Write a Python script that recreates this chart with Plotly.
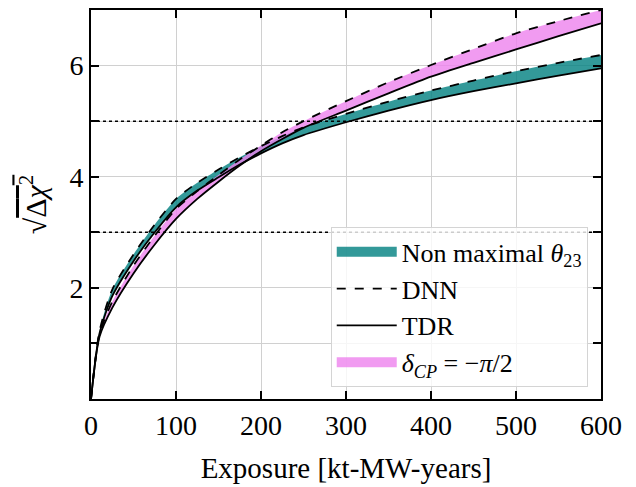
import plotly.graph_objects as go

# Exposure [kt-MW-years]
exposure = [0, 10, 25, 50, 75, 100, 125, 150, 175, 200, 225, 250, 300, 350, 400, 450, 500, 550, 600]

# Non maximal theta23
nonmax_dnn = [0, 1.22, 1.97, 2.60, 3.14, 3.60, 3.89, 4.13, 4.35, 4.55, 4.73, 4.89, 5.13, 5.35, 5.55, 5.73, 5.90, 6.05, 6.19]
nonmax_tdr = [0, 1.18, 1.85, 2.48, 3.00, 3.45, 3.75, 3.99, 4.22, 4.42, 4.60, 4.75, 4.98, 5.19, 5.38, 5.54, 5.68, 5.82, 5.95]

# delta_CP = -pi/2
dcp_dnn = [0, 1.16, 1.75, 2.40, 2.94, 3.42, 3.74, 4.03, 4.31, 4.56, 4.80, 5.00, 5.36, 5.70, 6.01, 6.30, 6.58, 6.80, 7.00]
dcp_tdr = [0, 1.12, 1.64, 2.26, 2.78, 3.24, 3.60, 3.91, 4.20, 4.46, 4.68, 4.88, 5.19, 5.50, 5.80, 6.05, 6.29, 6.53, 6.76]

sigma_levels = [3, 5]

TEAL = "rgba(0,128,128,0.8)"
PINK = "rgba(238,130,238,0.8)"
FONT = "Liberation Serif"
SHAPE = dict(shape="spline", smoothing=0.7)

fig = go.Figure()

# bands
fig.add_trace(go.Scatter(x=exposure, y=nonmax_tdr, mode="lines", line=dict(width=0, **SHAPE),
                         showlegend=False, hoverinfo="skip"))
fig.add_trace(go.Scatter(x=exposure, y=nonmax_dnn, mode="lines", line=dict(width=0, **SHAPE),
                         fill="tonexty", fillcolor=TEAL, showlegend=False))
fig.add_trace(go.Scatter(x=exposure, y=dcp_tdr, mode="lines", line=dict(width=0, **SHAPE),
                         showlegend=False, hoverinfo="skip"))
fig.add_trace(go.Scatter(x=exposure, y=dcp_dnn, mode="lines", line=dict(width=0, **SHAPE),
                         fill="tonexty", fillcolor=PINK, showlegend=False))

# boundary lines
fig.add_trace(go.Scatter(x=exposure, y=nonmax_dnn, mode="lines",
                         line=dict(color="black", width=1.8, dash="dash", **SHAPE),
                         name="DNN", legendrank=2))
fig.add_trace(go.Scatter(x=exposure, y=nonmax_tdr, mode="lines",
                         line=dict(color="black", width=1.8, **SHAPE),
                         name="TDR", legendrank=3))
fig.add_trace(go.Scatter(x=exposure, y=dcp_dnn, mode="lines",
                         line=dict(color="black", width=1.8, dash="dash", **SHAPE), showlegend=False))
fig.add_trace(go.Scatter(x=exposure, y=dcp_tdr, mode="lines",
                         line=dict(color="black", width=1.8, **SHAPE), showlegend=False))

# legend patches
fig.add_trace(go.Scatter(x=[None], y=[None], mode="lines", line=dict(color=TEAL, width=18),
                         name="Non maximal <i>θ</i><sub>23</sub>", legendrank=1))
fig.add_trace(go.Scatter(x=[None], y=[None], mode="lines", line=dict(color=PINK, width=18),
                         name="<i>δ</i><sub><i>CP</i></sub> = −<i>π</i>/2", legendrank=4))

for s in sigma_levels:
    fig.add_hline(y=s, line=dict(color="black", width=1.5, dash="dot"), layer="above")

fig.update_layout(
    width=636, height=487,
    margin=dict(l=91, r=35, t=10, b=88, autoexpand=False),
    plot_bgcolor="white", paper_bgcolor="white",
    font=dict(family=FONT, size=28, color="black"),
    showlegend=True,
    legend=dict(x=0.974, y=0.03, xanchor="right", yanchor="bottom",
                bgcolor="rgba(255,255,255,0.8)", bordercolor="#d4d4d4", borderwidth=1,
                font=dict(family=FONT, size=26), itemwidth=60,
                traceorder="normal"),
)
fig.update_xaxes(range=[0, 600], tickvals=[0, 100, 200, 300, 400, 500, 600],
                 ticks="inside", ticklen=8, tickwidth=1.5, tickcolor="black",
                 showline=True, linecolor="black", linewidth=1.8, mirror="ticks",
                 showgrid=True, gridcolor="#d0d0d0", gridwidth=1, zeroline=False,
                 automargin=False,
                 title=dict(text="Exposure [kt-MW-years]", standoff=18,
                            font=dict(family=FONT, size=29)))
fig.update_yaxes(range=[0, 7], tickvals=[1, 2, 3, 4, 5, 6], ticktext=["", "2", "", "4", "", "6"],
                 ticks="inside", ticklen=8, tickwidth=1.5, tickcolor="black",
                 showline=True, linecolor="black", linewidth=1.8, mirror="ticks",
                 showgrid=True, gridcolor="#d0d0d0", gridwidth=1, zeroline=False,
                 automargin=False,
                 title=dict(text="√<span style='text-decoration:overline'>Δ<i>χ</i><sup>2</sup></span>",
                            standoff=14, font=dict(family=FONT, size=30)))

fig.write_html("out.html", config={"displayModeBar": False},
               post_script="document.body.style.margin='0';document.body.style.overflow='hidden';")
